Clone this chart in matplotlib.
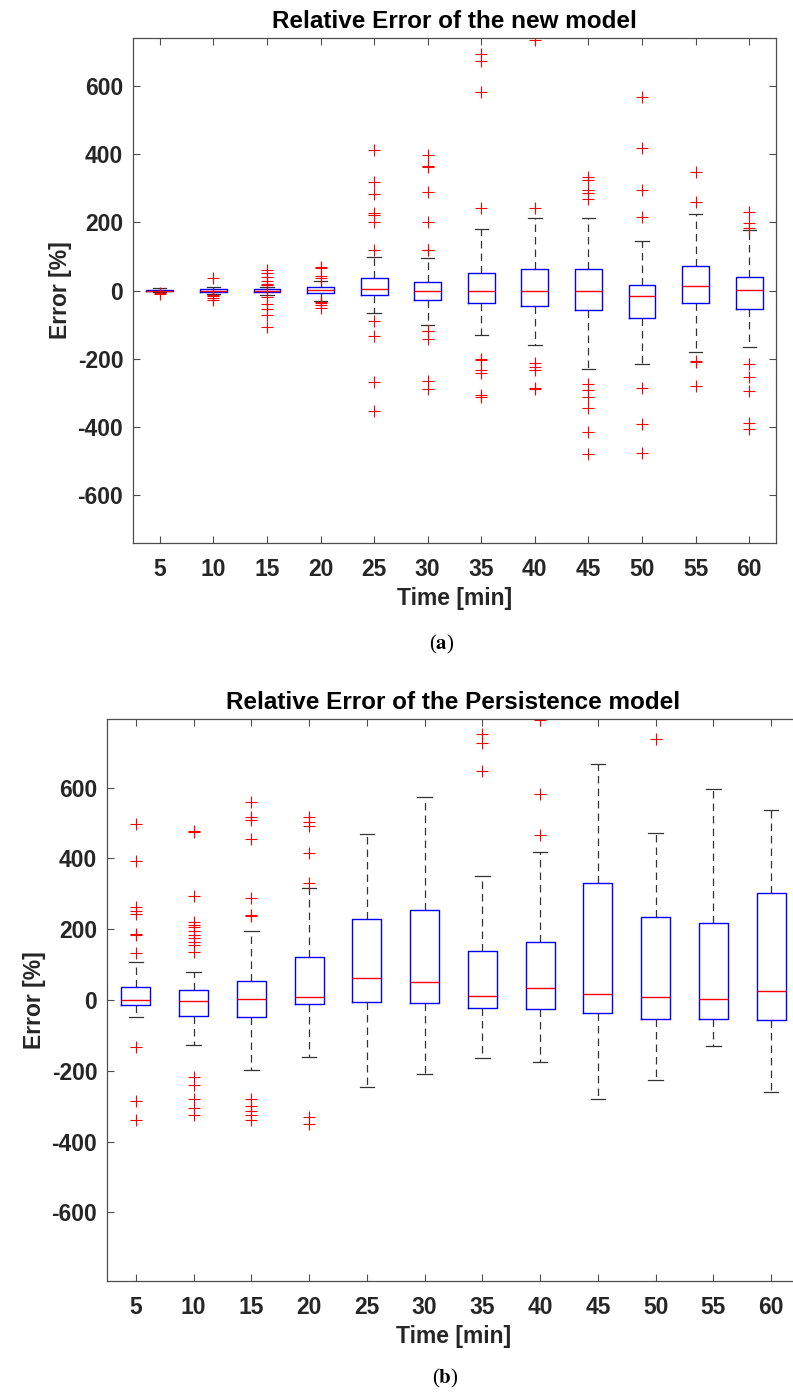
import matplotlib
matplotlib.use("Agg")
import matplotlib.pyplot as plt

plt.rcParams['font.family'] = ['Liberation Sans', 'DejaVu Sans']
plt.rcParams['mathtext.fontset'] = 'stix'

times = [5, 10, 15, 20, 25, 30, 35, 40, 45, 50, 55, 60]

# ---- (a) new model ----
new_q1 = [-2, -5, -4, -8, -13, -28, -36, -47, -56, -80, -37, -54]
new_med = [0, 0, 0, 2, 5, 0, -1, -2, 0, -17, 12, 2]
new_q3 = [2, 4, 4, 10, 36, 25, 52, 64, 64, 15, 73, 41]
new_wlo = [-5, -10, -14, -31, -67, -101, -132, -160, -232, -217, -181, -167]
new_whi = [8, 10, 10, 29, 98, 95, 181, 212, 213, 146, 226, 179]
new_fliers = [
    [-10, -6],
    [37, -13, -17, -22, -28],
    [59, 51, 41, 29, 20, 16, -20, -41, -54, -71, -108],
    [69, 67, 43, 37, -34, -37, -44, -51],
    [414, 318, 285, 228, 222, 200, 118, -90, -135, -270, -353],
    [397, 366, 363, 289, 202, 120, 118, -118, -120, -142, -265, -289],
    [695, 675, 582, 243, -201, -205, -235, -242, -306, -314],
    [735, 243, -212, -224, -235, -286, -290],
    [335, 326, 296, 287, 270, -276, -292, -312, -346, -417, -480],
    [570, 420, 296, 216, -286, -392, -477],
    [348, 260, -206, -211, -280],
    [232, 198, 183, -216, -255, -294, -390, -407],
]

# ---- (b) persistence model ----
per_q1 = [-15, -44, -49, -10, -5, -9, -23, -25, -38, -55, -53, -56]
per_med = [0, -3, 2, 8, 62, 52, 10, 33, 17, 9, 2, 25]
per_q3 = [38, 27, 53, 122, 230, 254, 139, 163, 330, 234, 218, 302]
per_wlo = [-49, -127, -198, -160, -245, -209, -165, -176, -280, -225, -130, -261]
per_whi = [108, 79, 196, 317, 468, 574, 351, 417, 667, 473, 595, 536]
per_fliers = [
    [497, 393, 262, 252, 243, 186, 184, 134, -132, -285, -340],
    [477, 475, 295, 220, 212, 205, 195, 185, 175, 165, 155, 135, -217, -240, -280, -305, -325],
    [560, 516, 510, 454, 287, 240, 237, -280, -300, -315, -325, -340],
    [516, 504, 491, 414, 330, -330, -350],
    [],
    [],
    [753, 725, 647],
    [790, 582, 466],
    [],
    [737],
    [],
    [],
]

W, H = 793, 1394
fig = plt.figure(figsize=(W / 100, H / 100), dpi=100)


def px_axes(left, top, right, bottom):
    return fig.add_axes([left / W, 1 - bottom / H, (right - left) / W, (bottom - top) / H])


def draw(ax, q1, med, q3, wlo, whi, fliers, title, ylim):
    stats = []
    for i in range(len(times)):
        stats.append(dict(q1=q1[i], med=med[i], q3=q3[i], whislo=wlo[i],
                          whishi=whi[i], fliers=fliers[i], label=str(times[i])))
    ax.bxp(stats, positions=range(1, len(times) + 1), widths=0.5, capwidths=0.25,
           showfliers=True,
           boxprops=dict(color='#0000ff', linewidth=1.0),
           medianprops=dict(color='#ff0000', linewidth=1.0),
           whiskerprops=dict(color='0.2', linewidth=0.9, linestyle=(0, (6, 4))),
           capprops=dict(color='0.2', linewidth=0.9),
           flierprops=dict(marker='+', markeredgecolor='#ff0000', markersize=8,
                           markeredgewidth=0.8, linestyle='none'))
    ax.set_xlim(0.5, 12.5)
    ax.set_ylim(*ylim)
    ax.set_yticks([-600, -400, -200, 0, 200, 400, 600])
    ax.set_yticklabels(['-600', '-400', '-200', '0', '200', '400', '600'])
    ax.set_xticks(range(1, 13))
    ax.set_xticklabels([str(t) for t in times])
    ax.tick_params(direction='in', top=True, right=True, length=5, width=0.8,
                   color='0.3', labelsize=16.5)
    ax.tick_params(axis='x', pad=11)
    ax.tick_params(axis='y', pad=7)
    for lab in ax.get_xticklabels() + ax.get_yticklabels():
        lab.set_fontweight('bold')
        lab.set_color('0.15')
    for s in ax.spines.values():
        s.set_color('0.3')
        s.set_linewidth(0.9)
    ax.set_title(title, fontsize=17.5, fontweight='bold', pad=7)
    ax.set_xlabel('Time [min]', fontsize=16.5, fontweight='bold', color='0.15', labelpad=4)
    ax.set_ylabel('Error [%]', fontsize=16.5, fontweight='bold', color='0.15', labelpad=4)


ax1 = px_axes(133, 38, 776, 543)
draw(ax1, new_q1, new_med, new_q3, new_wlo, new_whi, new_fliers,
     'Relative Error of the new model', (-742, 742))

ax2 = px_axes(107, 719, 800, 1281)
draw(ax2, per_q1, per_med, per_q3, per_wlo, per_whi, per_fliers,
     'Relative Error of the Persistence model', (-794, 794))

fig.text(442 / W, 1 - 644 / H, r'($\mathbf{a}$)', ha='center', va='center',
         fontsize=15, family='Liberation Serif')
fig.text(445 / W, 1 - 1378 / H, r'($\mathbf{b}$)', ha='center', va='center',
         fontsize=15, family='Liberation Serif')

fig.savefig('out.png', dpi=100)
